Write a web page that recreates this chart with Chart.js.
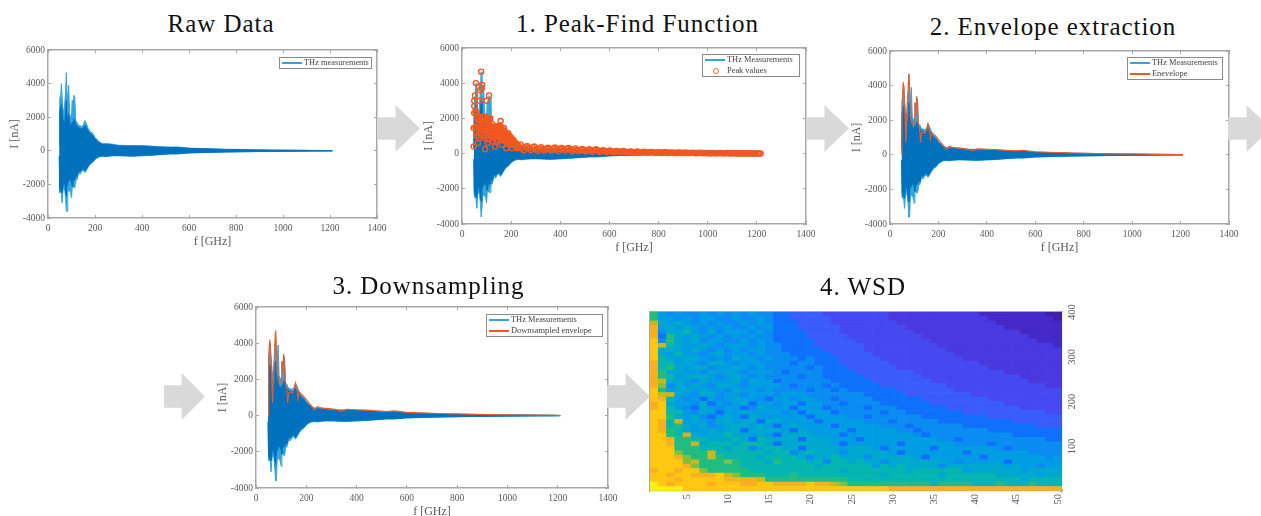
<!DOCTYPE html>
<html>
<head>
<meta charset="utf-8">
<script src="https://cdn.jsdelivr.net/npm/chart.js@4"></script>
<style>
html, body { margin:0; padding:0; background:#fff; width:1261px; height:516px; overflow:hidden; position:relative; }
canvas { position:absolute; filter:blur(0.55px); }
.title { position:absolute; font:25px "Liberation Serif", serif; color:#111; transform:translate(-50%,-50%); white-space:nowrap; letter-spacing:0.95px; }
.arrow { position:absolute; background:#d9d9d9; clip-path:polygon(0 26%, 43% 26%, 43% 0, 100% 50%, 43% 100%, 43% 74%, 0 74%); }
.legend { position:absolute; box-sizing:border-box; background:#fff; border:1px solid #8c8c8c; font:8.4px "Liberation Serif", serif; color:#444; filter:blur(0.3px); }
.legend div { position:absolute; white-space:nowrap; }
.swatch { height:2px; width:20px; }
.ring { width:4px; height:4px; border:1px solid #f4622a; border-radius:50%; }
</style>
</head>
<body>
<canvas id="raw"></canvas>
<canvas id="peak"></canvas>
<canvas id="env"></canvas>
<canvas id="down"></canvas>
<canvas id="wsd"></canvas>
<script>
// values
const freq = [48,50,54,57,60,64,68,72,75,78,81,84,88,92,96,100,103,106,110,114,118,124,130,136,142,150,157,164,172,180,190,200,210,220,232,245,260,280,300,330,360,400,440,480,520,550,600,650,700,760,820,880,950,1000,1060,1120,1180,1210]
const spikeUpper = [400,3100,3300,4000,3200,2500,2000,3000,3600,4650,3400,3000,3900,2200,2000,2100,3000,2200,3300,3200,1800,1700,1500,1500,1450,1500,1800,1600,1300,1150,1050,800,650,520,430,430,420,380,330,320,310,310,280,240,220,230,160,140,120,90,80,60,45,40,35,25,20,10]
const denseUpper = [300,2400,2600,2800,2300,1800,1500,1700,2300,3000,2000,1700,2200,1600,1500,1600,1700,1600,1900,1800,1500,1500,1350,1350,1300,1350,1500,1350,1150,1020,900,700,560,450,370,370,370,330,290,280,280,270,240,215,190,195,140,120,100,75,65,50,38,33,28,20,16,8]
const denseLower = [-300,-2200,-2400,-2400,-2500,-2000,-1800,-2000,-2500,-2700,-2000,-1900,-1800,-1700,-1700,-1900,-2100,-1800,-1700,-1700,-1500,-1550,-1150,-1250,-1150,-1050,-1200,-1050,-880,-730,-640,-480,-380,-320,-300,-320,-290,-270,-270,-290,-300,-270,-250,-210,-170,-170,-120,-100,-80,-65,-55,-45,-33,-27,-22,-16,-13,-6]
const spikeLower = [-400,-2500,-2400,-2600,-3100,-2300,-2200,-2400,-2900,-3600,-3600,-2500,-2300,-2400,-2500,-2800,-2200,-2100,-2200,-2200,-1800,-1700,-1300,-1400,-1250,-1150,-1300,-1150,-950,-800,-700,-520,-420,-350,-330,-350,-320,-300,-300,-310,-330,-300,-270,-230,-190,-190,-130,-110,-90,-75,-60,-50,-38,-30,-25,-18,-15,-8]

const envFreq = [48,49,51,55,58,62,66,70,74,78,82,86,90,95,100,103,106,110,114,118,122,126,130,136,145,152,157,162,167,172,180,190,200,210,220,232,245,260,280,300,320,340,360,400,440,480,520,550,600,650,700,760,820,880,950,1000,1060,1120,1180,1210]
const envelope = [0,2000,3300,4200,3400,2400,700,2300,3600,4700,3400,2400,1800,1700,1900,3000,2300,3400,2500,1700,1600,700,1250,1300,1250,1500,1800,1500,900,1300,1200,1050,900,700,550,300,500,420,400,370,330,220,350,320,300,260,230,260,180,150,130,100,85,65,50,42,35,25,18,8]

const peakFreq = [48,48,50,50,50,53,57,55,60,60,63,65,66,70,72,74,78,80,82,84,86,90,92,94,97,100,103,105,108,110,112,115,118,120,124,128,130,134,136,140,144,148,150,154,157,160,163,166,170,172,176,180,182,186,190,194,198,200,204,
  210,224,238,252,266,280,294,308,322,336,350,364,378,392,406,420,434,448,462,476,490,504,518,532,546,560,574,588,602,616,630,644,658,672,686,700,714,728,742,756,770,784,798,812,826,840,854,868,882,896,910,924,938,952,966,980,994,1008,1022,1036,1050,1064,1078,1092,1106,1120,1134,1148,1162,1176,1190,1204,1215,
  55,58,62,64,68,70,74,76,80,83,85,88,90,93,95,98,101,104,106,109,112,114,117,120,122,125,127,130,132,135,138,140,142,145,147,150,152,155,158,160,163,165,168,170,173,175,178,180,184,186,188,191,193,196,199,202,205,208,212,215,218,221,225,228,
  231,245,259,273,287,301,315,329,343,357,371,385,399,413,427,441,455,469,483,497,511,525,539,553,567,581,595,609,623,637,651,665,679,693,707,721,735,749,763,777,791,805,819,833,847,861,875,889,903,917,931,945,959,973,987,1001,1015,1029,1043,1057,1071,1085,1099,1113,1127,1141,1155,1169,1183,1197,1210]
const peakValue = [400,1450,2300,2700,3000,3300,4000,2400,2300,1500,2000,600,1700,1300,3000,3600,4650,3700,3900,1800,1000,1500,2100,250,1700,3000,2000,600,1200,3300,1900,2000,1000,1500,700,1400,1100,400,1550,1000,700,1300,1000,1500,1850,1200,500,1300,1450,800,1000,300,1100,900,800,1000,500,900,300,
  750,300,520,180,420,200,400,150,360,170,330,160,340,150,320,170,310,140,290,130,260,120,240,110,250,100,190,90,170,80,150,80,140,70,120,60,110,60,100,50,90,50,80,40,75,40,65,35,55,30,50,30,45,25,40,25,35,20,32,18,30,15,25,12,20,10,18,8,14,6,12,5,8,
  1500,1200,1000,1700,1900,900,1500,2000,1100,1400,2100,1700,900,1300,1900,1000,1500,1300,1800,800,1300,1600,1400,1100,1700,1300,900,1500,1200,1000,1300,700,1500,1100,800,1400,1600,1200,1000,1500,1100,800,1200,1000,1300,700,1100,800,1000,600,1150,700,900,600,800,600,750,500,600,450,600,400,500,350,
  430,300,380,300,350,260,300,240,280,240,290,230,280,240,270,220,250,200,220,190,190,170,200,170,150,140,130,120,120,110,110,100,90,85,85,80,75,70,70,65,60,55,55,55,50,45,40,40,40,40,35,30,30,30,28,25,25,22,22,20,18,18,15,15,12,12,10,10,8,8,6]

const xTicks = [0,200,400,600,800,1000,1200,1400]
const yTicks = [-4000,-2000,0,2000,4000,6000]

// WSD cells, top row first, one hex digit per cell = step of wsdColors
const wsdLevels = [
  "a7676 67676 76766 55444 43333 33332 22222 22222 11111 11100",
  "a7767 67766 76676 55444 44333 33332 22222 22222 21111 11110",
  "c8787 67676 67676 55544 44333 33333 22222 22222 22111 11111",
  "d7878 76767 66767 55544 44433 33333 32222 22222 22211 11111",
  "d6889 76867 77676 55554 44433 33333 33222 22222 22222 11111",
  "d5a87 87676 76766 55554 44443 33333 33322 22222 22222 21111",
  "e6a87 86776 67676 55555 44444 33333 33332 22222 22222 22111",
  "ec987 78767 77676 65555 44444 43333 33333 22222 22222 22221",
  "e8887 87676 76776 65555 54444 43333 33333 32222 22222 22222",
  "e8797 76786 77676 66555 55444 44333 33333 33222 22222 22222",
  "e9878 87676 87767 66656 55544 44433 33333 33322 22222 22222",
  "d9978 76887 67776 66566 55544 44443 33333 33333 22222 22222",
  "d9a87 88677 87676 66665 65554 44444 33333 33333 32222 22222",
  "da887 76878 76777 65666 65555 44444 44333 33333 33322 22222",
  "da978 88767 87676 66656 65555 54444 44433 33333 33333 22222",
  "dc887 68777 86877 56666 66555 55444 44443 33333 33333 32222",
  "db687 87688 76777 76566 65655 55544 44444 43333 33333 33322",
  "ea788 78776 87767 66665 66565 55555 44444 44333 33333 33333",
  "ecc87 68867 76777 67776 66666 65555 54444 44443 33333 33333",
  "ed976 75767 87765 77677 66566 66555 55544 44444 43333 33333",
  "de877 68576 78577 67757 76656 66655 55554 44444 44433 33333",
  "de976 58767 75687 77577 75666 65666 55555 54444 44444 33333",
  "ee997 68757 78777 76757 77566 66656 65555 55544 44444 44433",
  "eea87 86578 75877 77775 77776 65666 66655 55555 54444 44444",
  "ed9c7 87688 78858 87777 57777 76665 66666 55555 55554 44444",
  "ed9a8 78678 88787 57877 77577 77766 65666 66655 55555 55444",
  "eda98 77878 85888 87587 77775 77777 66566 66666 65555 55555",
  "eea9c 87889 88787 58888 77757 77777 77656 66666 66665 55555",
  "eedaa 99888 98598 88858 88777 57777 77777 66566 66666 66655",
  "eedaa c8999 89998 58888 88757 77777 57777 77666 65666 66666",
  "eeeaa a9998 99689 98858 88878 88757 77775 77777 77656 66666",
  "eeeba aac99 99998 99689 88868 88887 57777 77757 77777 76666",
  "eeedb aaca9 99989 99986 88988 86888 88757 77777 57777 77767",
  "eeeeb caaab a9998 a9998 96998 98868 88888 87677 77757 77777",
  "eeeed baaaa a9999 99999 89999 99798 98888 68888 88878 77677",
  "deede ebaaa aa999 99999 99989 99999 98999 99978 88888 78888",
  "eedee dddec baaa9 99a99 99999 99989 99999 89999 99888 88788",
  "eeede eeeed dddca aaaaa aaaa9 99999 99999 99999 99999 89999",
  "fedee eedee eddee dddde ddcba aaaaa aaaa9 aaaa9 99a99 9a999",
  "ffffe eeeee eeeee eeeee eeeee eeeed ddddd ddddd ddddd ddddd"
]
const wsdColumns = []
for (let i = 1; i <= 50; i++) wsdColumns.push(i)
const wsdRowStep = 10
const wsdColors = ["#3d1fa8","#4428c8","#4a38e0","#4648f0","#3a5cf8","#0f70fc","#0a8cf2","#009ce4","#00a8d0","#06b4b0","#20bc80","#80c040","#c8b820","#f8b020","#ffc810","#f8f010"]

const BLUE = "#0072bd"
const LIGHT = "#35a4dc"
const ORANGE = "#f4581f"
const INK = "#5a5a5a"
const EDGE = "#a8a8a8"

function place(id, left, top, width, height) {
  let c = document.getElementById(id)
  c.style.left = left + "px"
  c.style.top = top + "px"
  c.style.width = width + "px"
  c.style.height = height + "px"
  c.width = width
  c.height = height
  return c
}

function toPoints(xs, ys) {
  return xs.map((x, i) => ({x: x, y: ys[i]}))
}

// scales keep label overhang as padding, zero it so the plot rectangle stays where it is pinned
function noPad(s) {
  s.paddingLeft = 0
  s.paddingRight = 0
  s.paddingTop = 0
  s.paddingBottom = 0
}
function pinH(h) {
  return (s) => { s.height = h; noPad(s) }
}
function pinW(w) {
  return (s) => { s.width = w; noPad(s) }
}

function spectrumSets() {
  let base = {pointRadius:0, tension:0, borderWidth:1}
  return [
    {...base, label:"denseUpper", data:toPoints(freq, denseUpper), borderColor:BLUE, backgroundColor:BLUE, order:2},
    {...base, label:"denseLower", data:toPoints(freq, denseLower), borderColor:BLUE, order:2},
    {...base, label:"spikeUpper", data:toPoints(freq, spikeUpper), borderColor:LIGHT, backgroundColor:LIGHT, order:3},
    {...base, label:"spikeLower", data:toPoints(freq, spikeLower), borderColor:LIGHT, order:3}
  ]
}

function spectrumChart(id, rect, extra) {
  let left = 40, bottom = 31, top = 8, right = 16
  let c = place(id, rect[0] - left, rect[1] - top, rect[2] - rect[0] + left + right, rect[3] - rect[1] + top + bottom)
  let sets = spectrumSets()
  sets[0].fill = {target: extra.length + 1}
  sets[2].fill = {target: extra.length + 3}
  let all = extra.concat(sets)
  let tickFont = {family:"Liberation Serif", size:9.5}
  let grid = {drawOnChartArea:false, drawTicks:true, tickLength:-3, color:EDGE}
  let border = {display:true, color:EDGE, width:1.5}
  return new Chart(c, {
    type:"line",
    data:{datasets:all},
    options:{
      responsive:false, animation:false, events:[],
      layout:{padding:0, autoPadding:false},
      plugins:{legend:{display:false}, tooltip:{enabled:false}},
      scales:{
        x:{type:"linear", min:0, max:1400, grid:grid, border:border,
          afterBuildTicks:(s) => { s.ticks = xTicks.map(v => ({value:v})) },
          ticks:{font:tickFont, color:INK, padding:8, maxRotation:0, autoSkip:false, callback:(v) => String(v)},
          title:{display:true, text:"f [GHz]", font:{family:"Liberation Serif", size:12}, color:INK, padding:0},
          afterFit:pinH(bottom)},
        y:{type:"linear", min:-4000, max:6000, grid:grid, border:border,
          afterBuildTicks:(s) => { s.ticks = yTicks.map(v => ({value:v})) },
          ticks:{font:tickFont, color:INK, padding:6, autoSkip:false, callback:(v) => String(v)},
          title:{display:true, text:"I [nA]", font:{family:"Liberation Serif", size:12}, color:INK, padding:0},
          afterFit:pinW(left)},
        x2:{type:"linear", position:"top", min:0, max:1400, grid:grid, border:border,
          afterBuildTicks:(s) => { s.ticks = xTicks.map(v => ({value:v})) },
          ticks:{display:false}, afterFit:pinH(top)},
        y2:{type:"linear", position:"right", min:-4000, max:6000, grid:grid, border:border,
          afterBuildTicks:(s) => { s.ticks = yTicks.map(v => ({value:v})) },
          ticks:{display:false}, afterFit:pinW(right)}
      }
    }
  })
}

function envelopeSet() {
  return {label:"envelope", data:toPoints(envFreq, envelope), borderColor:ORANGE, borderWidth:1.1, pointRadius:0, tension:0, fill:false, order:0}
}

spectrumChart("raw", [48,50,377,218], [])
spectrumChart("peak", [462,48,806,224], [
  {label:"peaks", data:toPoints(peakFreq, peakValue), showLine:false, pointRadius:2.6, pointBorderWidth:1.4, pointBackgroundColor:"rgba(0,0,0,0)", pointBorderColor:ORANGE, order:0}
])
spectrumChart("env", [890,51,1229,224], [envelopeSet()])
spectrumChart("down", [256,307,608,488], [envelopeSet()])

// WSD map: one stacked bar set per row, bottom row first
function wsdChart() {
  let rect = [650,312,1062,491]
  let right = 22, bottom = 16, top = 14, leftPad = 2
  let c = place("wsd", rect[0] - leftPad, rect[1] - top, rect[2] - rect[0] + leftPad + right, rect[3] - rect[1] + top + bottom)
  let sets = []
  for (let r = wsdLevels.length - 1; r >= 0; r--) {
    let cells = wsdLevels[r].replace(/ /g, "").split("")
    sets.push({
      label:"row" + r,
      data:cells.map(() => wsdRowStep),
      backgroundColor:cells.map(k => wsdColors[parseInt(k, 16)]),
      borderWidth:0, barPercentage:1, categoryPercentage:1, stack:"wsd"
    })
  }
  let tickFont = {family:"Liberation Serif", size:10.5}
  let grid = {drawOnChartArea:false, drawTicks:true, tickLength:-2, color:"#8a8a8a"}
  let border = {display:true, color:EDGE, width:1.2}
  return new Chart(c, {
    type:"bar",
    data:{labels:wsdColumns, datasets:sets},
    options:{
      responsive:false, animation:false, events:[],
      layout:{padding:0, autoPadding:false},
      plugins:{legend:{display:false}, tooltip:{enabled:false}},
      scales:{
        x:{stacked:true, grid:grid, border:border,
          ticks:{font:tickFont, color:INK, padding:5, autoSkip:false, minRotation:90, maxRotation:90,
            callback:(v, i) => (wsdColumns[i] % 5 == 0 ? String(wsdColumns[i]) : "")},
          afterFit:pinH(bottom)},
        y:{stacked:true, position:"right", min:0, max:400, grid:grid, border:border,
          ticks:{font:tickFont, color:INK, padding:4, crossAlign:"center", stepSize:100, minRotation:90, maxRotation:90,
            callback:(v) => (v == 0 ? "" : String(v))},
          afterFit:pinW(right)},
        yl:{position:"left", min:0, max:400, grid:{display:false}, border:border, ticks:{display:false},
          afterFit:pinW(leftPad)},
        xt:{position:"top", grid:{display:false}, border:border, ticks:{display:false},
          afterFit:pinH(top)}
      }
    }
  })
}
wsdChart()

function addTitle(text, cx, cy) {
  let d = document.createElement("div")
  d.className = "title"
  d.textContent = text
  d.style.left = cx + "px"
  d.style.top = cy + "px"
  document.body.appendChild(d)
}
addTitle("Raw Data", 221, 24)
addTitle("1. Peak-Find Function", 637.5, 24)
addTitle("2. Envelope extraction", 1053, 27)
addTitle("3. Downsampling", 428.5, 286)
addTitle("4. WSD", 863, 287)

function addArrow(left, top, width, height) {
  let d = document.createElement("div")
  d.className = "arrow"
  d.style.cssText = "left:" + left + "px;top:" + top + "px;width:" + width + "px;height:" + height + "px"
  document.body.appendChild(d)
}
addArrow(377, 105, 43, 47)
addArrow(806, 105, 43, 47)
addArrow(1228, 105, 43, 47)
addArrow(164, 373, 41, 47)
addArrow(607, 373, 43, 47)

function addLegend(left, top, width, height, rows) {
  let box = document.createElement("div")
  box.className = "legend"
  box.style.cssText = "left:" + left + "px;top:" + top + "px;width:" + width + "px;height:" + height + "px"
  let step = (height - 2) / rows.length
  rows.forEach((r, i) => {
    let mid = step * (i + 0.5)
    let key = document.createElement("div")
    if (r.ring) {
      key.className = "ring"
      key.style.left = "10px"
      key.style.top = (mid - 3) + "px"
    } else {
      key.className = "swatch"
      key.style.background = r.color
      key.style.left = "2px"
      key.style.top = (mid - 1) + "px"
    }
    box.appendChild(key)
    let t = document.createElement("div")
    t.textContent = r.text
    t.style.left = "24px"
    t.style.top = (mid - 5) + "px"
    box.appendChild(t)
  })
  document.body.appendChild(box)
}
addLegend(279, 57, 93, 12, [{text:"THz measurements", color:LIGHT}])
addLegend(702, 54, 98, 23, [{text:"THz Measurements", color:LIGHT}, {text:"Peak values", ring:true}])
addLegend(1127, 57, 96, 23, [{text:"THz Measurements", color:LIGHT}, {text:"Enevelope", color:ORANGE}])
addLegend(486, 314, 117, 23, [{text:"THz Measurements", color:LIGHT}, {text:"Downsampled envelope", color:ORANGE}])
</script>
</body>
</html>
